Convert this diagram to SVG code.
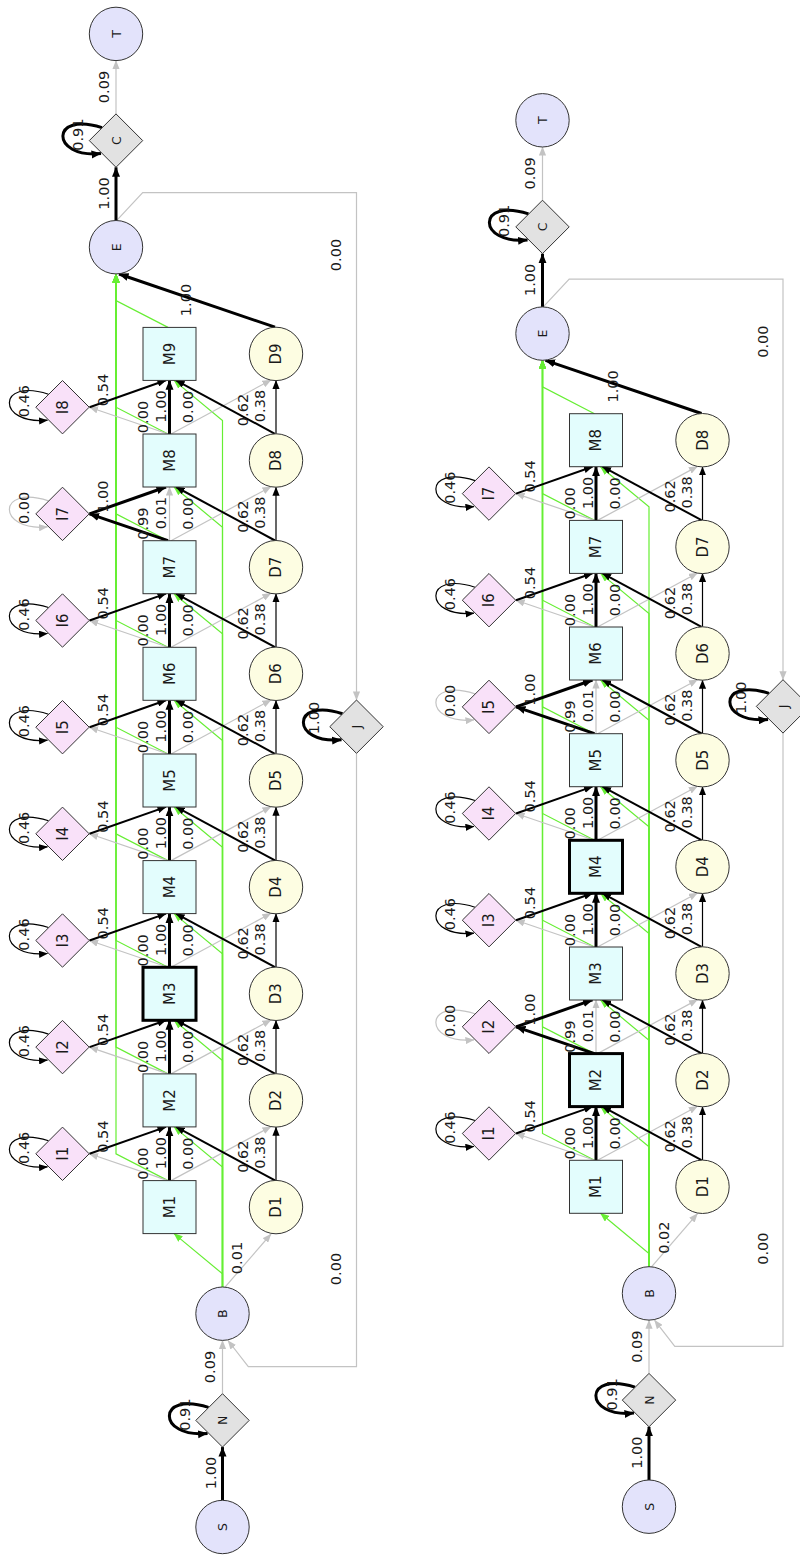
<svg xmlns="http://www.w3.org/2000/svg" width="800" height="1556" viewBox="0 0 800 1556">
<style>
text{font-family:"DejaVu Sans","Liberation Sans",sans-serif;fill:#1a1a1a;text-anchor:middle;dominant-baseline:central}
.c text{font-size:14.5px}
.n text{font-size:15px}
.s text{font-size:12.5px}
.mm rect{fill:#e3fdfd;stroke:#333;stroke-width:1}
.mm.bold rect{stroke:#000;stroke-width:3}
.dd circle{fill:#fdfde2;stroke:#333;stroke-width:1}
.ii polygon{fill:#f9e1f9;stroke:#333;stroke-width:1}
.ss circle{fill:#e3e3fb;stroke:#333;stroke-width:1}
.xx polygon{fill:#e2e2e2;stroke:#333;stroke-width:1}
.c path{fill:none}
.gy{stroke:#c3c3c3;stroke-width:1.2;marker-end:url(#ag)}
.gr{stroke:#66ee33;stroke-width:1.2;marker-end:url(#agr)}
.b1{stroke:#000;stroke-width:1.2;marker-end:url(#ab)}
.b2{stroke:#000;stroke-width:2;marker-end:url(#ab)}
.b3{stroke:#000;stroke-width:3;marker-end:url(#ab3)}
</style>
<defs>
<marker id="ab" viewBox="0 0 10 8" refX="9.5" refY="4" markerWidth="9" markerHeight="7.2" orient="auto" markerUnits="userSpaceOnUse"><polygon points="0,0 10,4 0,8" fill="#000"/></marker>
<marker id="ab3" viewBox="0 0 10 8" refX="9.5" refY="4" markerWidth="10" markerHeight="8.5" orient="auto" markerUnits="userSpaceOnUse"><polygon points="0,0 10,4 0,8" fill="#000"/></marker>
<marker id="ag" viewBox="0 0 10 8" refX="9.5" refY="4" markerWidth="9" markerHeight="7.2" orient="auto" markerUnits="userSpaceOnUse"><polygon points="0,0 10,4 0,8" fill="#c3c3c3"/></marker>
<marker id="agr" viewBox="0 0 10 8" refX="9.5" refY="4" markerWidth="9" markerHeight="7.2" orient="auto" markerUnits="userSpaceOnUse"><polygon points="0,0 10,4 0,8" fill="#66ee33"/></marker>
</defs>
<rect width="800" height="1556" fill="#fff"/>

<!-- ================= LEFT DIAGRAM ================= -->
<g id="left">
<g id="L-connectors" class="c">
<g id="L-green">
<path class="gr" d="M222.5,1287V1273.8L174,1233.6"/>
<path class="gr" d="M222.5,1287V1167.1L174,1126.9"/>
<path class="gr" d="M222.5,1287V1060.5L174,1020.3"/>
<path class="gr" d="M222.5,1287V953.8L174,913.6"/>
<path class="gr" d="M222.5,1287V847.2L174,807"/>
<path class="gr" d="M222.5,1287V740.5L174,700.3"/>
<path class="gr" d="M222.5,1287V633.9L174,593.7"/>
<path class="gr" d="M222.5,1287V527.2L174,487"/>
<path class="gr" d="M222.5,1287V420.6L174,380.4"/>
<path class="gr" d="M168,1180.6L116,1153.8V274"/>
<path class="gr" d="M168,1073.9L116,1047.1V274"/>
<path class="gr" d="M168,967.3L116,940.5V274"/>
<path class="gr" d="M168,860.6L116,833.8V274"/>
<path class="gr" d="M168,754L116,727.2V274"/>
<path class="gr" d="M168,647.3L116,620.5V274"/>
<path class="gr" d="M168,540.7L116,513.9V274"/>
<path class="gr" d="M168,434L116,407.2V274"/>
<path class="gr" d="M168,327.4L116,300.6V274"/>
</g>
<path class="b3" d="M222.5,1500.3V1447.1"/><text transform="translate(210.5,1473)rotate(-90)">1.00</text>
<path class="b3" transform="translate(222.5,1420.4)" d="M-14,-13C-66,-30 -66,18 -15,13"/><text transform="translate(185,1414.7)rotate(-90)">0.91</text>
<path class="gy" d="M222.5,1393.7V1340.4"/><text transform="translate(210,1367)rotate(-90)">0.09</text>
<path class="gy" d="M225,1287.2L271,1234"/><text transform="translate(237,1258)rotate(-90)">0.01</text>
<path class="gy" d="M356.5,753.4V1366.7H248.3L228,1340.5"/><text transform="translate(336,1269)rotate(-90)">0.00</text>
<path class="b3" transform="translate(356.5,726.7)" d="M-14,-13C-66,-30 -66,18 -15,13"/><text transform="translate(314,718)rotate(-90)">1.00</text>
<path class="gy" d="M117,220.2L142.7,192.7H356.5V700"/><text transform="translate(336,255)rotate(-90)">0.00</text>
<path class="b3" d="M275,327.2L119,274"/><text transform="translate(186,300)rotate(-90)">1.00</text>
<path class="b3" d="M116,220.5V167.3"/><text transform="translate(103.5,193.5)rotate(-90)">1.00</text>
<path class="b3" transform="translate(116,140.6)" d="M-14,-13C-66,-30 -66,18 -15,13"/><text transform="translate(77.5,134.6)rotate(-90)">0.91</text>
<path class="gy" d="M116,113.9V60.6"/><text transform="translate(103.5,87)rotate(-90)">0.09</text>

<g id="L-mod1" transform="translate(0,1207.1)">
<path class="gy" d="M168,-26.5L89.5,-53.3"/><path class="gy" d="M171,-26.5L271,-80.5"/>
<path class="b3" d="M169.5,-26.5V-80.2"/><path class="b2" d="M89.5,-53.3L166,-80.2"/>
<path class="b2" d="M275,-26.7L176,-80.2"/><path class="b1" d="M276,-26.7V-80"/>
<path class="b1" d="M48.5,-66.3C-3.5,-83.3 -3.5,-35.3 47.5,-40.3"/>
<text transform="translate(143,-43.5)rotate(-90)">0.00</text><text transform="translate(161,-54)rotate(-90)">1.00</text><text transform="translate(188,-53.5)rotate(-90)">0.00</text><text transform="translate(103,-70.5)rotate(-90)">0.54</text><text transform="translate(23.5,-59.3)rotate(-90)">0.46</text><text transform="translate(243,-50.5)rotate(-90)">0.62</text><text transform="translate(260,-54.5)rotate(-90)">0.38</text>
</g>
<g id="L-mod2" transform="translate(0,1100.4)">
<path class="gy" d="M168,-26.5L89.5,-53.3"/><path class="gy" d="M171,-26.5L271,-80.5"/>
<path class="b3" d="M169.5,-26.5V-80.2"/><path class="b2" d="M89.5,-53.3L166,-80.2"/>
<path class="b2" d="M275,-26.7L176,-80.2"/><path class="b1" d="M276,-26.7V-80"/>
<path class="b1" d="M48.5,-66.3C-3.5,-83.3 -3.5,-35.3 47.5,-40.3"/>
<text transform="translate(143,-43.5)rotate(-90)">0.00</text><text transform="translate(161,-54)rotate(-90)">1.00</text><text transform="translate(188,-53.5)rotate(-90)">0.00</text><text transform="translate(103,-70.5)rotate(-90)">0.54</text><text transform="translate(23.5,-59.3)rotate(-90)">0.46</text><text transform="translate(243,-50.5)rotate(-90)">0.62</text><text transform="translate(260,-54.5)rotate(-90)">0.38</text>
</g>
<g id="L-mod3" transform="translate(0,993.8)">
<path class="gy" d="M168,-26.5L89.5,-53.3"/><path class="gy" d="M171,-26.5L271,-80.5"/>
<path class="b3" d="M169.5,-26.5V-80.2"/><path class="b2" d="M89.5,-53.3L166,-80.2"/>
<path class="b2" d="M275,-26.7L176,-80.2"/><path class="b1" d="M276,-26.7V-80"/>
<path class="b1" d="M48.5,-66.3C-3.5,-83.3 -3.5,-35.3 47.5,-40.3"/>
<text transform="translate(143,-43.5)rotate(-90)">0.00</text><text transform="translate(161,-54)rotate(-90)">1.00</text><text transform="translate(188,-53.5)rotate(-90)">0.00</text><text transform="translate(103,-70.5)rotate(-90)">0.54</text><text transform="translate(23.5,-59.3)rotate(-90)">0.46</text><text transform="translate(243,-50.5)rotate(-90)">0.62</text><text transform="translate(260,-54.5)rotate(-90)">0.38</text>
</g>
<g id="L-mod4" transform="translate(0,887.1)">
<path class="gy" d="M168,-26.5L89.5,-53.3"/><path class="gy" d="M171,-26.5L271,-80.5"/>
<path class="b3" d="M169.5,-26.5V-80.2"/><path class="b2" d="M89.5,-53.3L166,-80.2"/>
<path class="b2" d="M275,-26.7L176,-80.2"/><path class="b1" d="M276,-26.7V-80"/>
<path class="b1" d="M48.5,-66.3C-3.5,-83.3 -3.5,-35.3 47.5,-40.3"/>
<text transform="translate(143,-43.5)rotate(-90)">0.00</text><text transform="translate(161,-54)rotate(-90)">1.00</text><text transform="translate(188,-53.5)rotate(-90)">0.00</text><text transform="translate(103,-70.5)rotate(-90)">0.54</text><text transform="translate(23.5,-59.3)rotate(-90)">0.46</text><text transform="translate(243,-50.5)rotate(-90)">0.62</text><text transform="translate(260,-54.5)rotate(-90)">0.38</text>
</g>
<g id="L-mod5" transform="translate(0,780.5)">
<path class="gy" d="M168,-26.5L89.5,-53.3"/><path class="gy" d="M171,-26.5L271,-80.5"/>
<path class="b3" d="M169.5,-26.5V-80.2"/><path class="b2" d="M89.5,-53.3L166,-80.2"/>
<path class="b2" d="M275,-26.7L176,-80.2"/><path class="b1" d="M276,-26.7V-80"/>
<path class="b1" d="M48.5,-66.3C-3.5,-83.3 -3.5,-35.3 47.5,-40.3"/>
<text transform="translate(143,-43.5)rotate(-90)">0.00</text><text transform="translate(161,-54)rotate(-90)">1.00</text><text transform="translate(188,-53.5)rotate(-90)">0.00</text><text transform="translate(103,-70.5)rotate(-90)">0.54</text><text transform="translate(23.5,-59.3)rotate(-90)">0.46</text><text transform="translate(243,-50.5)rotate(-90)">0.62</text><text transform="translate(260,-54.5)rotate(-90)">0.38</text>
</g>
<g id="L-mod6" transform="translate(0,673.8)">
<path class="gy" d="M168,-26.5L89.5,-53.3"/><path class="gy" d="M171,-26.5L271,-80.5"/>
<path class="b3" d="M169.5,-26.5V-80.2"/><path class="b2" d="M89.5,-53.3L166,-80.2"/>
<path class="b2" d="M275,-26.7L176,-80.2"/><path class="b1" d="M276,-26.7V-80"/>
<path class="b1" d="M48.5,-66.3C-3.5,-83.3 -3.5,-35.3 47.5,-40.3"/>
<text transform="translate(143,-43.5)rotate(-90)">0.00</text><text transform="translate(161,-54)rotate(-90)">1.00</text><text transform="translate(188,-53.5)rotate(-90)">0.00</text><text transform="translate(103,-70.5)rotate(-90)">0.54</text><text transform="translate(23.5,-59.3)rotate(-90)">0.46</text><text transform="translate(243,-50.5)rotate(-90)">0.62</text><text transform="translate(260,-54.5)rotate(-90)">0.38</text>
</g>
<g id="L-mod7" transform="translate(0,567.2)">
<path class="gy" d="M169.5,-26.5V-80.2"/><path class="gy" d="M171,-26.5L271,-80.5"/>
<path class="gy" d="M48.5,-66.3C-3.5,-83.3 -3.5,-35.3 47.5,-40.3"/>
<path class="b3" d="M168,-26.5L89.5,-53.3"/><path class="b3" d="M89.5,-53.3L166,-80.2"/>
<path class="b2" d="M275,-26.7L176,-80.2"/><path class="b1" d="M276,-26.7V-80"/>
<text transform="translate(143,-43.5)rotate(-90)">0.99</text><text transform="translate(161,-54)rotate(-90)">0.01</text><text transform="translate(188,-53.5)rotate(-90)">0.00</text><text transform="translate(103,-70.5)rotate(-90)">1.00</text><text transform="translate(23.5,-59.3)rotate(-90)">0.00</text><text transform="translate(243,-50.5)rotate(-90)">0.62</text><text transform="translate(260,-54.5)rotate(-90)">0.38</text>
</g>
<g id="L-mod8" transform="translate(0,460.5)">
<path class="gy" d="M168,-26.5L89.5,-53.3"/><path class="gy" d="M171,-26.5L271,-80.5"/>
<path class="b3" d="M169.5,-26.5V-80.2"/><path class="b2" d="M89.5,-53.3L166,-80.2"/>
<path class="b2" d="M275,-26.7L176,-80.2"/><path class="b1" d="M276,-26.7V-80"/>
<path class="b1" d="M48.5,-66.3C-3.5,-83.3 -3.5,-35.3 47.5,-40.3"/>
<text transform="translate(143,-43.5)rotate(-90)">0.00</text><text transform="translate(161,-54)rotate(-90)">1.00</text><text transform="translate(188,-53.5)rotate(-90)">0.00</text><text transform="translate(103,-70.5)rotate(-90)">0.54</text><text transform="translate(23.5,-59.3)rotate(-90)">0.46</text><text transform="translate(243,-50.5)rotate(-90)">0.62</text><text transform="translate(260,-54.5)rotate(-90)">0.38</text>
</g>
</g>

<g id="L-S" class="ss s" transform="translate(222.5,1527)"><circle r="26.7"/><text transform="rotate(-90)">S</text></g>
<g id="L-N" class="xx s" transform="translate(222.5,1420.4)"><polygon points="0,-26.7 26.7,0 0,26.7 -26.7,0"/><text transform="rotate(-90)">N</text></g>
<g id="L-B" class="ss s" transform="translate(222.5,1313.7)"><circle r="26.7"/><text transform="rotate(-90)">B</text></g>
<g id="L-E" class="ss s" transform="translate(116,247.2)"><circle r="26.7"/><text transform="rotate(-90)">E</text></g>
<g id="L-C" class="xx s" transform="translate(116,140.6)"><polygon points="0,-26.7 26.7,0 0,26.7 -26.7,0"/><text transform="rotate(-90)">C</text></g>
<g id="L-T" class="ss s" transform="translate(116,33.9)"><circle r="26.7"/><text transform="rotate(-90)">T</text></g>
<g id="L-J" class="xx s" transform="translate(356.5,726.7)"><polygon points="0,-26.7 26.7,0 0,26.7 -26.7,0"/><text transform="rotate(-90)">J</text></g>

<g id="L-M1" class="mm n" transform="translate(169.5,1207.1)"><rect x="-26.5" y="-26.5" width="53" height="53"/><text transform="rotate(-90)">M1</text></g>
<g id="L-M2" class="mm n" transform="translate(169.5,1100.4)"><rect x="-26.5" y="-26.5" width="53" height="53"/><text transform="rotate(-90)">M2</text></g>
<g id="L-M3" class="mm bold n" transform="translate(169.5,993.8)"><rect x="-26.5" y="-26.5" width="53" height="53"/><text transform="rotate(-90)">M3</text></g>
<g id="L-M4" class="mm n" transform="translate(169.5,887.1)"><rect x="-26.5" y="-26.5" width="53" height="53"/><text transform="rotate(-90)">M4</text></g>
<g id="L-M5" class="mm n" transform="translate(169.5,780.5)"><rect x="-26.5" y="-26.5" width="53" height="53"/><text transform="rotate(-90)">M5</text></g>
<g id="L-M6" class="mm n" transform="translate(169.5,673.8)"><rect x="-26.5" y="-26.5" width="53" height="53"/><text transform="rotate(-90)">M6</text></g>
<g id="L-M7" class="mm n" transform="translate(169.5,567.2)"><rect x="-26.5" y="-26.5" width="53" height="53"/><text transform="rotate(-90)">M7</text></g>
<g id="L-M8" class="mm n" transform="translate(169.5,460.5)"><rect x="-26.5" y="-26.5" width="53" height="53"/><text transform="rotate(-90)">M8</text></g>
<g id="L-M9" class="mm n" transform="translate(169.5,353.9)"><rect x="-26.5" y="-26.5" width="53" height="53"/><text transform="rotate(-90)">M9</text></g>

<g id="L-D1" class="dd n" transform="translate(276,1207.1)"><circle r="26.7"/><text transform="rotate(-90)">D1</text></g>
<g id="L-D2" class="dd n" transform="translate(276,1100.4)"><circle r="26.7"/><text transform="rotate(-90)">D2</text></g>
<g id="L-D3" class="dd n" transform="translate(276,993.8)"><circle r="26.7"/><text transform="rotate(-90)">D3</text></g>
<g id="L-D4" class="dd n" transform="translate(276,887.1)"><circle r="26.7"/><text transform="rotate(-90)">D4</text></g>
<g id="L-D5" class="dd n" transform="translate(276,780.5)"><circle r="26.7"/><text transform="rotate(-90)">D5</text></g>
<g id="L-D6" class="dd n" transform="translate(276,673.8)"><circle r="26.7"/><text transform="rotate(-90)">D6</text></g>
<g id="L-D7" class="dd n" transform="translate(276,567.2)"><circle r="26.7"/><text transform="rotate(-90)">D7</text></g>
<g id="L-D8" class="dd n" transform="translate(276,460.5)"><circle r="26.7"/><text transform="rotate(-90)">D8</text></g>
<g id="L-D9" class="dd n" transform="translate(276,353.9)"><circle r="26.7"/><text transform="rotate(-90)">D9</text></g>

<g id="L-I1" class="ii n" transform="translate(62.5,1153.8)"><polygon points="0,-26.7 26.7,0 0,26.7 -26.7,0"/><text transform="rotate(-90)">I1</text></g>
<g id="L-I2" class="ii n" transform="translate(62.5,1047.1)"><polygon points="0,-26.7 26.7,0 0,26.7 -26.7,0"/><text transform="rotate(-90)">I2</text></g>
<g id="L-I3" class="ii n" transform="translate(62.5,940.5)"><polygon points="0,-26.7 26.7,0 0,26.7 -26.7,0"/><text transform="rotate(-90)">I3</text></g>
<g id="L-I4" class="ii n" transform="translate(62.5,833.8)"><polygon points="0,-26.7 26.7,0 0,26.7 -26.7,0"/><text transform="rotate(-90)">I4</text></g>
<g id="L-I5" class="ii n" transform="translate(62.5,727.2)"><polygon points="0,-26.7 26.7,0 0,26.7 -26.7,0"/><text transform="rotate(-90)">I5</text></g>
<g id="L-I6" class="ii n" transform="translate(62.5,620.5)"><polygon points="0,-26.7 26.7,0 0,26.7 -26.7,0"/><text transform="rotate(-90)">I6</text></g>
<g id="L-I7" class="ii n" transform="translate(62.5,513.9)"><polygon points="0,-26.7 26.7,0 0,26.7 -26.7,0"/><text transform="rotate(-90)">I7</text></g>
<g id="L-I8" class="ii n" transform="translate(62.5,407.2)"><polygon points="0,-26.7 26.7,0 0,26.7 -26.7,0"/><text transform="rotate(-90)">I8</text></g>
</g>

<!-- ================= RIGHT DIAGRAM ================= -->
<g id="right" transform="translate(426.5,-20.3)">
<g id="R-connectors" class="c">
<g id="R-green">
<path class="gr" d="M222.5,1287V1273.8L174,1233.6"/>
<path class="gr" d="M222.5,1287V1167.1L174,1126.9"/>
<path class="gr" d="M222.5,1287V1060.5L174,1020.3"/>
<path class="gr" d="M222.5,1287V953.8L174,913.6"/>
<path class="gr" d="M222.5,1287V847.2L174,807"/>
<path class="gr" d="M222.5,1287V740.5L174,700.3"/>
<path class="gr" d="M222.5,1287V633.9L174,593.7"/>
<path class="gr" d="M222.5,1287V527.2L174,487"/>
<path class="gr" d="M168,1180.6L116,1153.8V380.6"/>
<path class="gr" d="M168,1073.9L116,1047.1V380.6"/>
<path class="gr" d="M168,967.3L116,940.5V380.6"/>
<path class="gr" d="M168,860.6L116,833.8V380.6"/>
<path class="gr" d="M168,754L116,727.2V380.6"/>
<path class="gr" d="M168,647.3L116,620.5V380.6"/>
<path class="gr" d="M168,540.7L116,513.9V380.6"/>
<path class="gr" d="M168,434L116,407.2V380.6"/>
</g>
<path class="b3" d="M222.5,1500.3V1447.1"/><text transform="translate(210.5,1473)rotate(-90)">1.00</text>
<path class="b3" transform="translate(222.5,1420.4)" d="M-14,-13C-66,-30 -66,18 -15,13"/><text transform="translate(185,1414.7)rotate(-90)">0.91</text>
<path class="gy" d="M222.5,1393.7V1340.4"/><text transform="translate(210,1367)rotate(-90)">0.09</text>
<path class="gy" d="M225,1287.2L271,1234"/><text transform="translate(237,1258)rotate(-90)">0.02</text>
<path class="gy" d="M356.5,753.4V1366.7H248.3L228,1340.5"/><text transform="translate(336,1269)rotate(-90)">0.00</text>
<path class="b3" transform="translate(356.5,726.7)" d="M-14,-13C-66,-30 -66,18 -15,13"/><text transform="translate(314,718)rotate(-90)">1.00</text>
<path class="gy" d="M117,326.9L142.7,299.4H356.5V700"/><text transform="translate(336,362)rotate(-90)">0.00</text>
<path class="b3" d="M275,433.8L119,380.6"/><text transform="translate(186,406.7)rotate(-90)">1.00</text>
<path class="b3" d="M116,327.2V274"/><text transform="translate(103.5,300.2)rotate(-90)">1.00</text>
<path class="b3" transform="translate(116,247.2)" d="M-14,-13C-66,-30 -66,18 -15,13"/><text transform="translate(77.5,241.2)rotate(-90)">0.91</text>
<path class="gy" d="M116,220.5V167.3"/><text transform="translate(103.5,193.7)rotate(-90)">0.09</text>

<g id="R-mod1" transform="translate(0,1207.1)">
<path class="gy" d="M168,-26.5L89.5,-53.3"/><path class="gy" d="M171,-26.5L271,-80.5"/>
<path class="b3" d="M169.5,-26.5V-80.2"/><path class="b2" d="M89.5,-53.3L166,-80.2"/>
<path class="b2" d="M275,-26.7L176,-80.2"/><path class="b1" d="M276,-26.7V-80"/>
<path class="b1" d="M48.5,-66.3C-3.5,-83.3 -3.5,-35.3 47.5,-40.3"/>
<text transform="translate(143,-43.5)rotate(-90)">0.00</text><text transform="translate(161,-54)rotate(-90)">1.00</text><text transform="translate(188,-53.5)rotate(-90)">0.00</text><text transform="translate(103,-70.5)rotate(-90)">0.54</text><text transform="translate(23.5,-59.3)rotate(-90)">0.46</text><text transform="translate(243,-50.5)rotate(-90)">0.62</text><text transform="translate(260,-54.5)rotate(-90)">0.38</text>
</g>
<g id="R-mod2" transform="translate(0,1100.4)">
<path class="gy" d="M169.5,-26.5V-80.2"/><path class="gy" d="M171,-26.5L271,-80.5"/>
<path class="gy" d="M48.5,-66.3C-3.5,-83.3 -3.5,-35.3 47.5,-40.3"/>
<path class="b3" d="M168,-26.5L89.5,-53.3"/><path class="b3" d="M89.5,-53.3L166,-80.2"/>
<path class="b2" d="M275,-26.7L176,-80.2"/><path class="b1" d="M276,-26.7V-80"/>
<text transform="translate(143,-43.5)rotate(-90)">0.99</text><text transform="translate(161,-54)rotate(-90)">0.01</text><text transform="translate(188,-53.5)rotate(-90)">0.00</text><text transform="translate(103,-70.5)rotate(-90)">1.00</text><text transform="translate(23.5,-59.3)rotate(-90)">0.00</text><text transform="translate(243,-50.5)rotate(-90)">0.62</text><text transform="translate(260,-54.5)rotate(-90)">0.38</text>
</g>
<g id="R-mod3" transform="translate(0,993.8)">
<path class="gy" d="M168,-26.5L89.5,-53.3"/><path class="gy" d="M171,-26.5L271,-80.5"/>
<path class="b3" d="M169.5,-26.5V-80.2"/><path class="b2" d="M89.5,-53.3L166,-80.2"/>
<path class="b2" d="M275,-26.7L176,-80.2"/><path class="b1" d="M276,-26.7V-80"/>
<path class="b1" d="M48.5,-66.3C-3.5,-83.3 -3.5,-35.3 47.5,-40.3"/>
<text transform="translate(143,-43.5)rotate(-90)">0.00</text><text transform="translate(161,-54)rotate(-90)">1.00</text><text transform="translate(188,-53.5)rotate(-90)">0.00</text><text transform="translate(103,-70.5)rotate(-90)">0.54</text><text transform="translate(23.5,-59.3)rotate(-90)">0.46</text><text transform="translate(243,-50.5)rotate(-90)">0.62</text><text transform="translate(260,-54.5)rotate(-90)">0.38</text>
</g>
<g id="R-mod4" transform="translate(0,887.1)">
<path class="gy" d="M168,-26.5L89.5,-53.3"/><path class="gy" d="M171,-26.5L271,-80.5"/>
<path class="b3" d="M169.5,-26.5V-80.2"/><path class="b2" d="M89.5,-53.3L166,-80.2"/>
<path class="b2" d="M275,-26.7L176,-80.2"/><path class="b1" d="M276,-26.7V-80"/>
<path class="b1" d="M48.5,-66.3C-3.5,-83.3 -3.5,-35.3 47.5,-40.3"/>
<text transform="translate(143,-43.5)rotate(-90)">0.00</text><text transform="translate(161,-54)rotate(-90)">1.00</text><text transform="translate(188,-53.5)rotate(-90)">0.00</text><text transform="translate(103,-70.5)rotate(-90)">0.54</text><text transform="translate(23.5,-59.3)rotate(-90)">0.46</text><text transform="translate(243,-50.5)rotate(-90)">0.62</text><text transform="translate(260,-54.5)rotate(-90)">0.38</text>
</g>
<g id="R-mod5" transform="translate(0,780.5)">
<path class="gy" d="M169.5,-26.5V-80.2"/><path class="gy" d="M171,-26.5L271,-80.5"/>
<path class="gy" d="M48.5,-66.3C-3.5,-83.3 -3.5,-35.3 47.5,-40.3"/>
<path class="b3" d="M168,-26.5L89.5,-53.3"/><path class="b3" d="M89.5,-53.3L166,-80.2"/>
<path class="b2" d="M275,-26.7L176,-80.2"/><path class="b1" d="M276,-26.7V-80"/>
<text transform="translate(143,-43.5)rotate(-90)">0.99</text><text transform="translate(161,-54)rotate(-90)">0.01</text><text transform="translate(188,-53.5)rotate(-90)">0.00</text><text transform="translate(103,-70.5)rotate(-90)">1.00</text><text transform="translate(23.5,-59.3)rotate(-90)">0.00</text><text transform="translate(243,-50.5)rotate(-90)">0.62</text><text transform="translate(260,-54.5)rotate(-90)">0.38</text>
</g>
<g id="R-mod6" transform="translate(0,673.8)">
<path class="gy" d="M168,-26.5L89.5,-53.3"/><path class="gy" d="M171,-26.5L271,-80.5"/>
<path class="b3" d="M169.5,-26.5V-80.2"/><path class="b2" d="M89.5,-53.3L166,-80.2"/>
<path class="b2" d="M275,-26.7L176,-80.2"/><path class="b1" d="M276,-26.7V-80"/>
<path class="b1" d="M48.5,-66.3C-3.5,-83.3 -3.5,-35.3 47.5,-40.3"/>
<text transform="translate(143,-43.5)rotate(-90)">0.00</text><text transform="translate(161,-54)rotate(-90)">1.00</text><text transform="translate(188,-53.5)rotate(-90)">0.00</text><text transform="translate(103,-70.5)rotate(-90)">0.54</text><text transform="translate(23.5,-59.3)rotate(-90)">0.46</text><text transform="translate(243,-50.5)rotate(-90)">0.62</text><text transform="translate(260,-54.5)rotate(-90)">0.38</text>
</g>
<g id="R-mod7" transform="translate(0,567.2)">
<path class="gy" d="M168,-26.5L89.5,-53.3"/><path class="gy" d="M171,-26.5L271,-80.5"/>
<path class="b3" d="M169.5,-26.5V-80.2"/><path class="b2" d="M89.5,-53.3L166,-80.2"/>
<path class="b2" d="M275,-26.7L176,-80.2"/><path class="b1" d="M276,-26.7V-80"/>
<path class="b1" d="M48.5,-66.3C-3.5,-83.3 -3.5,-35.3 47.5,-40.3"/>
<text transform="translate(143,-43.5)rotate(-90)">0.00</text><text transform="translate(161,-54)rotate(-90)">1.00</text><text transform="translate(188,-53.5)rotate(-90)">0.00</text><text transform="translate(103,-70.5)rotate(-90)">0.54</text><text transform="translate(23.5,-59.3)rotate(-90)">0.46</text><text transform="translate(243,-50.5)rotate(-90)">0.62</text><text transform="translate(260,-54.5)rotate(-90)">0.38</text>
</g>
</g>

<g id="R-S" class="ss s" transform="translate(222.5,1527)"><circle r="26.7"/><text transform="rotate(-90)">S</text></g>
<g id="R-N" class="xx s" transform="translate(222.5,1420.4)"><polygon points="0,-26.7 26.7,0 0,26.7 -26.7,0"/><text transform="rotate(-90)">N</text></g>
<g id="R-B" class="ss s" transform="translate(222.5,1313.7)"><circle r="26.7"/><text transform="rotate(-90)">B</text></g>
<g id="R-E" class="ss s" transform="translate(116,353.9)"><circle r="26.7"/><text transform="rotate(-90)">E</text></g>
<g id="R-C" class="xx s" transform="translate(116,247.2)"><polygon points="0,-26.7 26.7,0 0,26.7 -26.7,0"/><text transform="rotate(-90)">C</text></g>
<g id="R-T" class="ss s" transform="translate(116,140.6)"><circle r="26.7"/><text transform="rotate(-90)">T</text></g>
<g id="R-J" class="xx s" transform="translate(356.5,726.7)"><polygon points="0,-26.7 26.7,0 0,26.7 -26.7,0"/><text transform="rotate(-90)">J</text></g>

<g id="R-M1" class="mm n" transform="translate(169.5,1207.1)"><rect x="-26.5" y="-26.5" width="53" height="53"/><text transform="rotate(-90)">M1</text></g>
<g id="R-M2" class="mm bold n" transform="translate(169.5,1100.4)"><rect x="-26.5" y="-26.5" width="53" height="53"/><text transform="rotate(-90)">M2</text></g>
<g id="R-M3" class="mm n" transform="translate(169.5,993.8)"><rect x="-26.5" y="-26.5" width="53" height="53"/><text transform="rotate(-90)">M3</text></g>
<g id="R-M4" class="mm bold n" transform="translate(169.5,887.1)"><rect x="-26.5" y="-26.5" width="53" height="53"/><text transform="rotate(-90)">M4</text></g>
<g id="R-M5" class="mm n" transform="translate(169.5,780.5)"><rect x="-26.5" y="-26.5" width="53" height="53"/><text transform="rotate(-90)">M5</text></g>
<g id="R-M6" class="mm n" transform="translate(169.5,673.8)"><rect x="-26.5" y="-26.5" width="53" height="53"/><text transform="rotate(-90)">M6</text></g>
<g id="R-M7" class="mm n" transform="translate(169.5,567.2)"><rect x="-26.5" y="-26.5" width="53" height="53"/><text transform="rotate(-90)">M7</text></g>
<g id="R-M8" class="mm n" transform="translate(169.5,460.5)"><rect x="-26.5" y="-26.5" width="53" height="53"/><text transform="rotate(-90)">M8</text></g>

<g id="R-D1" class="dd n" transform="translate(276,1207.1)"><circle r="26.7"/><text transform="rotate(-90)">D1</text></g>
<g id="R-D2" class="dd n" transform="translate(276,1100.4)"><circle r="26.7"/><text transform="rotate(-90)">D2</text></g>
<g id="R-D3" class="dd n" transform="translate(276,993.8)"><circle r="26.7"/><text transform="rotate(-90)">D3</text></g>
<g id="R-D4" class="dd n" transform="translate(276,887.1)"><circle r="26.7"/><text transform="rotate(-90)">D4</text></g>
<g id="R-D5" class="dd n" transform="translate(276,780.5)"><circle r="26.7"/><text transform="rotate(-90)">D5</text></g>
<g id="R-D6" class="dd n" transform="translate(276,673.8)"><circle r="26.7"/><text transform="rotate(-90)">D6</text></g>
<g id="R-D7" class="dd n" transform="translate(276,567.2)"><circle r="26.7"/><text transform="rotate(-90)">D7</text></g>
<g id="R-D8" class="dd n" transform="translate(276,460.5)"><circle r="26.7"/><text transform="rotate(-90)">D8</text></g>

<g id="R-I1" class="ii n" transform="translate(62.5,1153.8)"><polygon points="0,-26.7 26.7,0 0,26.7 -26.7,0"/><text transform="rotate(-90)">I1</text></g>
<g id="R-I2" class="ii n" transform="translate(62.5,1047.1)"><polygon points="0,-26.7 26.7,0 0,26.7 -26.7,0"/><text transform="rotate(-90)">I2</text></g>
<g id="R-I3" class="ii n" transform="translate(62.5,940.5)"><polygon points="0,-26.7 26.7,0 0,26.7 -26.7,0"/><text transform="rotate(-90)">I3</text></g>
<g id="R-I4" class="ii n" transform="translate(62.5,833.8)"><polygon points="0,-26.7 26.7,0 0,26.7 -26.7,0"/><text transform="rotate(-90)">I4</text></g>
<g id="R-I5" class="ii n" transform="translate(62.5,727.2)"><polygon points="0,-26.7 26.7,0 0,26.7 -26.7,0"/><text transform="rotate(-90)">I5</text></g>
<g id="R-I6" class="ii n" transform="translate(62.5,620.5)"><polygon points="0,-26.7 26.7,0 0,26.7 -26.7,0"/><text transform="rotate(-90)">I6</text></g>
<g id="R-I7" class="ii n" transform="translate(62.5,513.9)"><polygon points="0,-26.7 26.7,0 0,26.7 -26.7,0"/><text transform="rotate(-90)">I7</text></g>
</g>
</svg>
